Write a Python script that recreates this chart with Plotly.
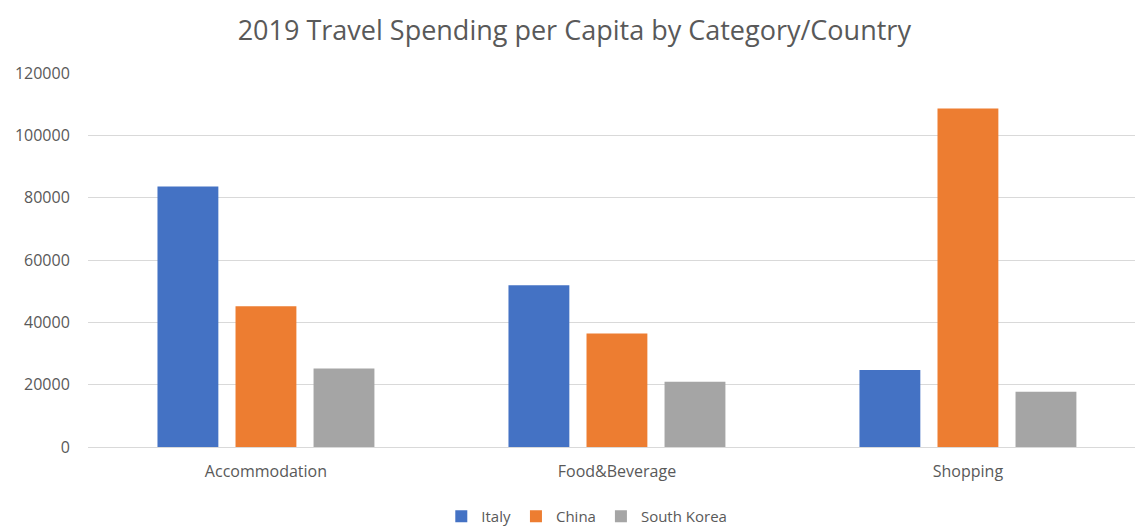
import plotly.graph_objects as go

categories = ["Accommodation", "Food&Beverage", "Shopping"]
italy = [83600, 51900, 24700]
china = [45200, 36400, 108600]
south_korea = [25200, 20900, 17700]

y_ticks = [0, 20000, 40000, 60000, 80000, 100000, 120000]

series = [
    ("Italy", italy, "#4472C4"),
    ("China", china, "#ED7D31"),
    ("South Korea", south_korea, "#A5A5A5"),
]

FONT = "Open Sans"
TEXT = "#595959"

fig = go.Figure()
for name, values, color in series:
    fig.add_trace(go.Bar(name=name, x=categories, y=values,
                         marker=dict(color=color, line=dict(width=0))))

fig.update_layout(
    width=1135, height=526,
    margin=dict(l=88, r=0, t=73, b=79),
    paper_bgcolor="white", plot_bgcolor="white",
    barmode="group", bargap=0.333, bargroupgap=0.22,
    font=dict(family=FONT, size=16, color=TEXT),
    title=dict(text="2019 Travel Spending per Capita by Category/Country",
               x=0.506, xanchor="center", xref="container",
               y=0.941, yanchor="middle", yref="container",
               font=dict(family=FONT, size=27, color=TEXT)),
    legend=dict(orientation="h", xref="container", x=0.517, xanchor="center",
                yref="container", y=0.018, yanchor="middle",
                font=dict(family=FONT, size=15, color=TEXT),
                itemwidth=30, traceorder="normal"),
    showlegend=True,
)

fig.update_xaxes(range=[-0.507, 2.476], showgrid=False, showline=False,
                 ticks="outside", ticklen=10, tickcolor="rgba(0,0,0,0)",
                 tickfont=dict(family=FONT, size=16, color=TEXT))
fig.update_yaxes(range=[0, 120000], tickvals=y_ticks,
                 ticktext=[str(v) for v in y_ticks],
                 showgrid=True, gridcolor="#D9D9D9", gridwidth=1,
                 zeroline=True, zerolinecolor="#D9D9D9", zerolinewidth=1,
                 showline=False, ticks="outside", ticklen=14,
                 tickcolor="rgba(0,0,0,0)",
                 tickfont=dict(family=FONT, size=16, color=TEXT))

fig.write_html("out.html")
